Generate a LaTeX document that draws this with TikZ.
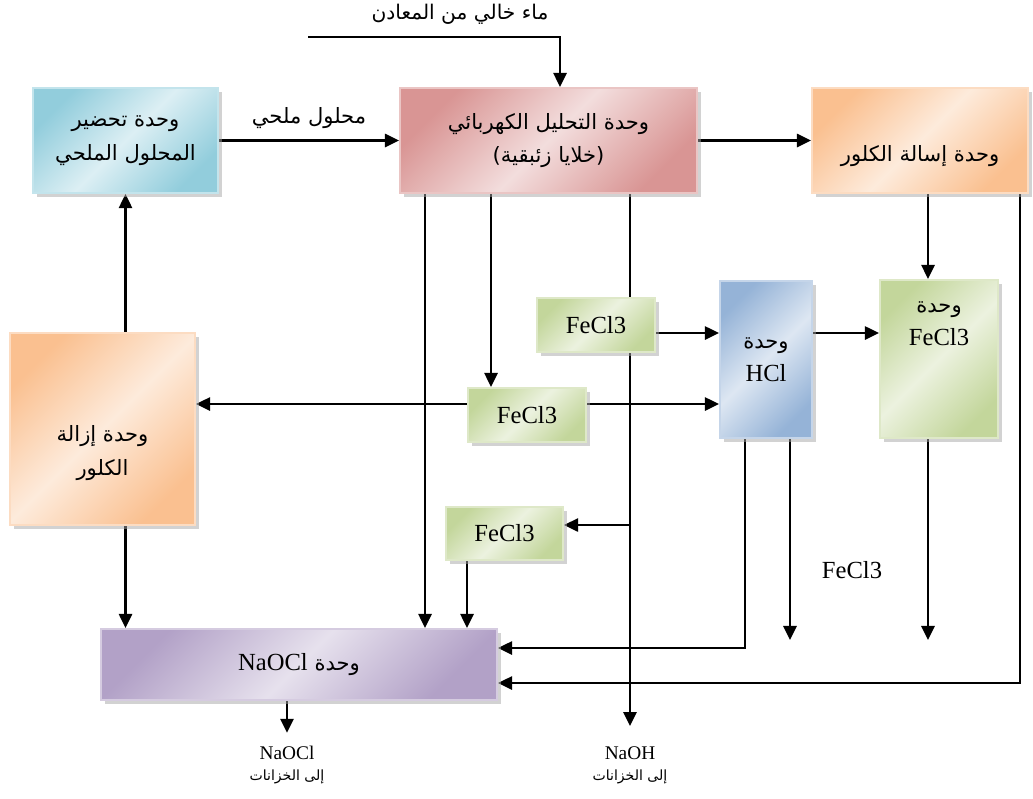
\documentclass[tikz,border=0pt]{standalone}
\usepackage{fontspec}
\setmainfont{Liberation Serif}
\newfontfamily\arabicfont[Script=Arabic]{DejaVu Sans}
\TeXXeTstate=1
\usetikzlibrary{arrows.meta,shadows,backgrounds}

\definecolor{cyanbox}{HTML}{92CDDC}
\definecolor{pinkbox}{HTML}{D99594}
\definecolor{orangebox}{HTML}{FAC090}
\definecolor{greenbox}{HTML}{C3D69B}
\definecolor{bluebox}{HTML}{95B3D7}
\definecolor{purplebox}{HTML}{B2A1C7}

\newcommand{\artxt}[1]{{\arabicfont\beginR #1\endR}}

\begin{document}
\begin{tikzpicture}[x=0.02cm,y=-0.02cm]

  \tikzstyle{unit}=[rectangle, draw=#1!55!white, line width=1.2pt,
    left color=#1, right color=#1, middle color=#1!32!white, shading angle=45,
    drop shadow={shadow xshift=2.3pt, shadow yshift=-2.3pt, fill=black!35},
    align=center, inner sep=2pt, font=\fontsize{12}{19}\selectfont]
  \tikzstyle{chem}=[font=\fontsize{14}{17}\selectfont]
  \tikzstyle{flow}=[line width=1.3pt, -{Triangle[length=8pt,width=7.5pt]}]
  \tikzstyle{tank}=[align=center, font=\fontsize{11}{12}\selectfont]

  \useasboundingbox (0,0) rectangle (1033,798);

  \node[unit=cyanbox, minimum width=3.7cm, minimum height=2.1cm] (prep) at (125.5,140.5)
    {\artxt{وحدة تحضير}\\\artxt{المحلول الملحي}};
  \node[unit=pinkbox, minimum width=5.94cm, minimum height=2.1cm] (electro) at (548.5,140.5)
    {\artxt{وحدة التحليل الكهربائي}\\\artxt{(خلايا زئبقية)}};
  \node[unit=orangebox, minimum width=4.32cm, minimum height=2.1cm] (liq) at (920,140.5)
    {\raisebox{-12pt}[0pt][0pt]{\artxt{وحدة إسالة الكلور}}};
  \node[unit=orangebox, minimum width=3.7cm, minimum height=3.84cm] (dechlor) at (102.5,429)
    {\raisebox{-16pt}[0pt][0pt]{\begin{tabular}{@{}c@{}}\artxt{وحدة إزالة}\\\artxt{الكلور}\end{tabular}}};
  \node[unit=bluebox, minimum width=1.84cm, minimum height=3.14cm] (hcl) at (766,359.5)
    {\artxt{وحدة}\\{\fontsize{14}{17}\selectfont HCl}};
  \node[unit=greenbox, minimum width=2.36cm, minimum height=3.16cm] (fu) at (939,359)
    {\raisebox{18pt}[0pt][0pt]{\begin{tabular}{@{}c@{}}\artxt{وحدة}\\{\fontsize{14}{17}\selectfont FeCl3}\end{tabular}}};
  \node[unit=greenbox, chem, minimum width=2.36cm, minimum height=1.08cm] (fa) at (596,325) {FeCl3};
  \node[unit=greenbox, chem, minimum width=2.36cm, minimum height=1.08cm] (fb) at (527,415) {FeCl3};
  \node[unit=greenbox, chem, minimum width=2.34cm, minimum height=1.06cm] (fc) at (504.5,533.5) {FeCl3};
  \node[unit=purplebox, minimum width=7.92cm, minimum height=1.42cm] (naocl) at (299,664.5)
    {\artxt{وحدة \beginL{\fontsize{14}{17}\rmfamily NaOCl}\endL}};

  \node[chem] (fecl) at (852,570) {FeCl3};
  \node[font=\fontsize{11.5}{14}\selectfont] (water) at (460,14) {\artxt{ماء خالي من المعادن}};
  \node[tank] (naocltank) at (287,765) {NaOCl\\{\fontsize{8}{12}\selectfont\artxt{إلى الخزانات}}};
  \node[tank] (naohtank) at (630,765) {NaOH\\{\fontsize{8}{12}\selectfont\artxt{إلى الخزانات}}};

  \coordinate (w0) at (308,37);
  \coordinate (w1) at (560,37);
  % columns and rows of the pipes
  \coordinate (ca) at (425,0);
  \coordinate (cb) at (491,0);
  \coordinate (cc) at (630,0);
  \coordinate (cd) at (467,0);
  \coordinate (ce) at (745,0);
  \coordinate (cf) at (790,0);
  \coordinate (cg) at (928,0);
  \coordinate (ch) at (1020,0);
  \coordinate (ci) at (287,0);
  \coordinate (ra) at (0,333);
  \coordinate (rb) at (0,404);
  \coordinate (rc) at (0,525);
  \coordinate (rd) at (0,640);
  \coordinate (re) at (0,648);
  \coordinate (rf) at (0,683);

  \begin{pgfonlayer}{background}
  \draw[flow] (w0) -- (w1) -- (w1 |- electro.north);
  \draw[flow] (prep.east) -- node[above=3pt, font=\fontsize{12}{15}\selectfont] (brine) {\artxt{محلول ملحي}} (electro.west);
  \draw[flow] (electro.east) -- (liq.west);

  \draw[flow] (electro.south -| ca) -- (naocl.north -| ca);
  \draw[flow] (electro.south -| cb) -- (fb.north -| cb);
  \draw[flow, shorten >=8pt] (electro.south -| cc) -- (naohtank.north);
  \draw[flow] (rc -| cc) -- (rc -| fc.east);

  \draw[flow] (ra -| fa.east) -- (ra -| hcl.west);
  \draw[flow] (ra -| hcl.east) -- (ra -| fu.west);
  \draw[flow] (rb -| fb.west) -- (rb -| dechlor.east);
  \draw[flow] (rb -| fb.east) -- (rb -| hcl.west);

  \draw[flow] (dechlor.north -| prep.south) -- (prep.south);
  \draw[flow] (dechlor.south -| prep.south) -- (naocl.north -| prep.south);
  \draw[flow] (fc.south -| cd) -- (naocl.north -| cd);

  \draw[flow] (liq.south -| cg) -- (fu.north -| cg);
  \draw[flow] (hcl.south -| ce) -- (re -| ce) -- (re -| naocl.east);
  \draw[flow] (hcl.south -| cf) -- (rd -| cf);
  \draw[flow] (fu.south -| cg) -- (rd -| cg);
  \draw[flow] (liq.south -| ch) -- (rf -| ch) -- (rf -| naocl.east);
  \draw[flow, shorten >=4pt] (naocl.south -| ci) -- (naocltank.north);
  \end{pgfonlayer}

\end{tikzpicture}
\end{document}
